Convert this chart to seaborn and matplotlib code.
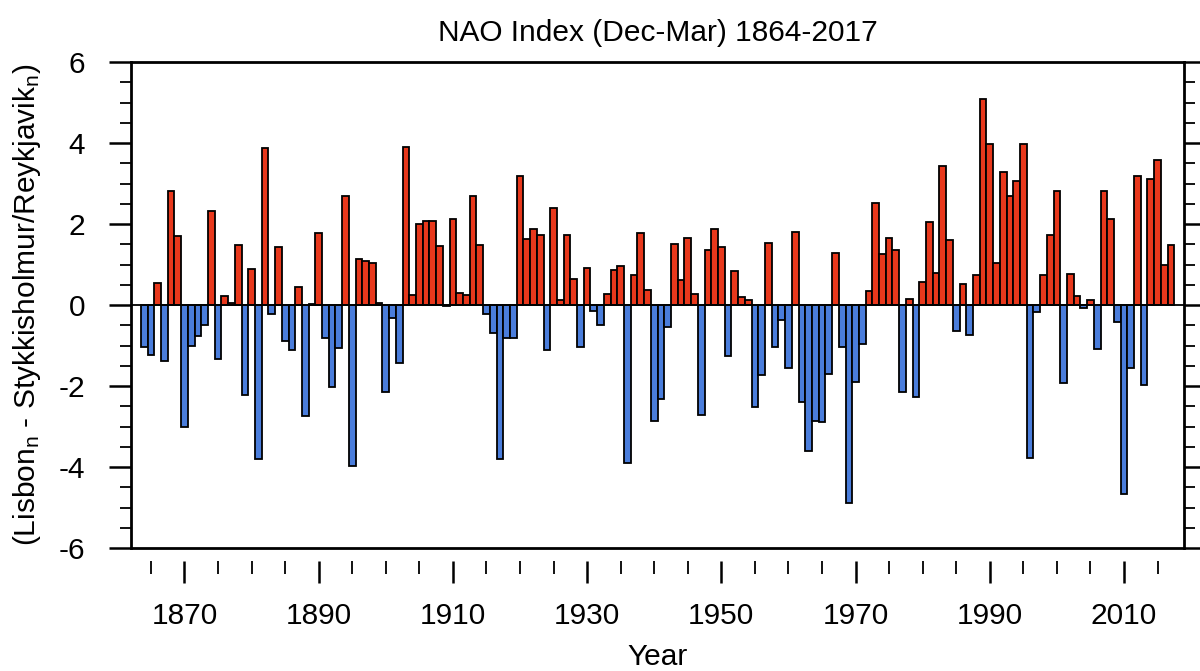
import numpy as np
import pandas as pd
import matplotlib
matplotlib.use("Agg")
import matplotlib.pyplot as plt
from matplotlib.ticker import FixedLocator
import seaborn as sns

# Winter (DJFM) station-based NAO index, one value per year
years = list(range(1864, 2018))
nao = [
    -1.03, -1.24, 0.54, -1.38, 2.82, 1.70, -3.01, -1.01, -0.77, -0.50,   # 1864-1873
    2.33, -1.34, 0.21, 0.06, 1.47, -2.22, 0.90, -3.81, 3.88, -0.22,      # 1874-1883
    1.44, -0.89, -1.11, 0.45, -2.74, 0.02, 1.79, -0.82, -2.02, -1.07,    # 1884-1893
    2.69, -3.98, 1.13, 1.09, 1.04, 0.05, -2.14, -0.33, -1.42, 3.90,      # 1894-1903
    0.25, 1.99, 2.07, 2.07, 1.45, -0.02, 2.12, 0.30, 0.25, 2.69,         # 1904-1913
    1.48, -0.21, -0.69, -3.81, -0.81, -0.81, 3.19, 1.64, 1.87, 1.74,     # 1914-1923
    -1.12, 2.40, 0.12, 1.73, 0.63, -1.03, 0.92, -0.16, -0.49, 0.26,      # 1924-1933
    0.86, 0.97, -3.89, 0.73, 1.79, 0.38, -2.86, -2.31, -0.54, 1.50,      # 1934-1943
    0.61, 1.65, 0.28, -2.72, 1.35, 1.88, 1.42, -1.27, 0.84, 0.20,        # 1944-1953
    0.13, -2.52, -1.73, 1.53, -1.03, -0.37, -1.55, 1.81, -2.39, -3.60,   # 1954-1963
    -2.86, -2.88, -1.70, 1.28, -1.04, -4.90, -1.89, -0.97, 0.35, 2.53,   # 1964-1973
    1.25, 1.65, 1.37, -2.15, 0.16, -2.26, 0.57, 2.06, 0.80, 3.43,        # 1974-1983
    1.61, -0.63, 0.51, -0.75, 0.74, 5.09, 3.98, 1.04, 3.29, 2.68,        # 1984-1993
    3.05, 3.98, -3.79, -0.17, 0.74, 1.72, 2.81, -1.92, 0.77, 0.21,       # 1994-2003
    -0.08, 0.12, -1.09, 2.81, 2.12, -0.42, -4.66, -1.56, 3.18, -1.98,    # 2004-2013
    3.11, 3.57, 0.99, 1.48,                                              # 2014-2017
]

year_major = [1870, 1890, 1910, 1930, 1950, 1970, 1990, 2010]
year_minor = [y for y in range(1865, 2020, 5) if y not in year_major]
y_major = [-6, -4, -2, 0, 2, 4, 6]

RED = "#E8381C"
BLUE = "#4A7DDB"
FS = 21.5

df = pd.DataFrame({"year": years, "nao": nao})
df["phase"] = np.where(df["nao"] >= 0, "positive", "negative")

sns.set_style("white")
plt.rcParams["font.family"] = ["Liberation Sans", "DejaVu Sans"]
plt.rcParams["mathtext.fontset"] = "custom"
plt.rcParams["mathtext.rm"] = "Liberation Sans"
plt.rcParams["mathtext.it"] = "Liberation Sans"
plt.rcParams["text.color"] = "black"
plt.rcParams["axes.labelcolor"] = "black"
plt.rcParams["xtick.color"] = "black"
plt.rcParams["ytick.color"] = "black"

fig, ax = plt.subplots(figsize=(12, 6.71), dpi=100)
fig.subplots_adjust(left=0.109, right=0.987, top=0.9076, bottom=0.1833)

sns.barplot(
    data=df, x="year", y="nao", hue="phase",
    palette={"positive": RED, "negative": BLUE},
    native_scale=True, width=1.0, dodge=False, errorbar=None,
    edgecolor="black", linewidth=1.3, saturation=1, legend=False, ax=ax,
)

ax.axhline(0, color="black", lw=1.3, zorder=5)

ax.set_xlim(1862, 2019)
ax.set_ylim(-6, 6)

# x ticks hang below the frame, detached from it
ax.spines["bottom"].set_position(("outward", 9))
ax.spines["bottom"].set_visible(False)
ax.axhline(-6, color="black", lw=2.0, clip_on=False, zorder=6)
for side in ("left", "right", "top"):
    ax.spines[side].set_linewidth(2.0)
    ax.spines[side].set_color("black")

ax.xaxis.set_major_locator(FixedLocator(year_major))
ax.xaxis.set_minor_locator(FixedLocator(year_minor))
ax.set_xticklabels([str(y) for y in year_major])
ax.yaxis.set_major_locator(FixedLocator(y_major))
ax.yaxis.set_minor_locator(FixedLocator(list(np.arange(-6, 6.01, 0.5))))
ax.set_yticklabels([str(v) for v in y_major])

ax.tick_params(axis="x", which="major", direction="out", length=16, width=1.8,
               pad=14, labelsize=FS, bottom=True, top=False, colors="black")
ax.tick_params(axis="x", which="minor", direction="out", length=9, width=1.3,
               bottom=True, top=False, colors="black")
ax.tick_params(axis="y", which="major", direction="out", length=16, width=1.8,
               pad=17, labelsize=FS, left=True, right=True, colors="black")
ax.tick_params(axis="y", which="minor", direction="out", length=8, width=1.3,
               left=True, right=True, colors="black")

ax.set_title("NAO Index (Dec-Mar) 1864-2017", fontsize=FS, pad=15, color="black")
ax.set_xlabel("Year", fontsize=FS, color="black")
ax.xaxis.set_label_coords(0.5, -0.195)
ax.set_ylabel(r"(Lisbon$_\mathregular{n}$ - Stykkisholmur/Reykjavik$_\mathregular{n}$)",
              fontsize=FS, color="black")
ax.yaxis.set_label_coords(-0.083, 0.5)

fig.savefig("out.png", dpi=100, facecolor="white")
